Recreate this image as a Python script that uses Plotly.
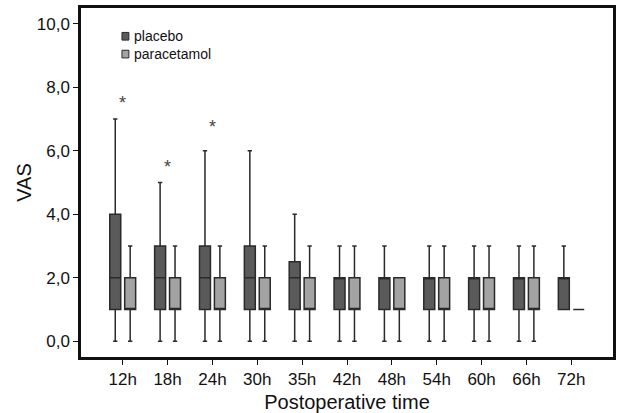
import plotly.graph_objects as go

# ---- data ----
categories = ["12h", "18h", "24h", "30h", "35h", "42h", "48h", "54h", "60h", "66h", "72h"]

placebo_min = [0, 0, 0, 0, 0, 0, 0, 0, 0, 0, 1]
placebo_q1 = [1, 1, 1, 1, 1, 1, 1, 1, 1, 1, 1]
placebo_med = [2, 2, 2, 2, 2, 2, 2, 2, 2, 2, 2]
placebo_q3 = [4, 3, 3, 3, 2.5, 2, 2, 2, 2, 2, 2]
placebo_max = [7, 5, 6, 6, 4, 3, 3, 3, 3, 3, 3]

parac_min = [0, 0, 0, 0, 0, 0, 0, 0, 0, 0, 1]
parac_q1 = [1, 1, 1, 1, 1, 1, 1, 1, 1, 1, 1]
parac_med = [1, 1, 1, 1, 1, 1, 1, 1, 1, 1, 1]
parac_q3 = [2, 2, 2, 2, 2, 2, 2, 2, 2, 2, 1]
parac_max = [3, 3, 3, 3, 3, 3, 2, 3, 3, 3, 1]

star_cats = ["12h", "18h", "24h"]
star_y = [7.5, 5.5, 6.75]

y_tick_vals = [0, 2, 4, 6, 8, 10]
y_tick_labels = ["0,0", "2,0", "4,0", "6,0", "8,0", "10,0"]

series_names = ["placebo", "paracetamol"]
series_colors = ["#5a5a5a", "#a3a3a3"]

FONT = "Liberation Sans, Arial, sans-serif"

fig = go.Figure()
stats = [
    (placebo_min, placebo_q1, placebo_med, placebo_q3, placebo_max),
    (parac_min, parac_q1, parac_med, parac_q3, parac_max),
]
for name, color, (mn, q1, md, q3, mx) in zip(series_names, series_colors, stats):
    fig.add_trace(go.Box(
        name=name,
        x=categories,
        lowerfence=mn, q1=q1, median=md, q3=q3, upperfence=mx,
        fillcolor=color,
        line=dict(color="#2a2a2a", width=1.5),
        whiskerwidth=0.4,
        boxpoints=False,
        showlegend=False,
    ))

for c, yv in zip(star_cats, star_y):
    fig.add_annotation(x=c, y=yv, text="*", showarrow=False,
                       font=dict(family=FONT, size=18, color="#444444"))

# manual legend (single text block to keep tight line spacing)
legend_y = [0.919, 0.868]
for color, ly in zip(series_colors, legend_y):
    fig.add_shape(type="rect", xref="paper", yref="paper",
                  x0=0.077, x1=0.09, y0=ly - 0.011, y1=ly + 0.011,
                  fillcolor=color, line=dict(color="#2a2a2a", width=1))
fig.add_annotation(xref="paper", yref="paper", x=0.095, y=(legend_y[0] + legend_y[1]) / 2,
                   text="<br>".join(series_names),
                   showarrow=False, xanchor="left", yanchor="middle", align="left",
                   font=dict(family=FONT, size=14, color="#111111"))

fig.update_layout(
    width=618, height=413,
    margin=dict(l=81, r=2, t=8, b=56),
    paper_bgcolor="white", plot_bgcolor="white",
    boxmode="group", boxgap=0.335, boxgroupgap=0.265,
    font=dict(family=FONT, size=17, color="#111111"),
    showlegend=False,
)
fig.update_xaxes(
    type="category", categoryorder="array", categoryarray=categories,
    range=[-0.93, 10.93],
    showline=True, linecolor="#111111", linewidth=2.5, mirror=True,
    ticks="outside", ticklen=5, tickcolor="#111111",
    showgrid=False, zeroline=False,
    tickfont=dict(size=17),
    title=dict(text="Postoperative time", font=dict(size=20), standoff=8),
)
fig.update_yaxes(
    range=[-0.5, 10.5],
    tickvals=y_tick_vals, ticktext=y_tick_labels,
    showline=True, linecolor="#111111", linewidth=2.5, mirror=True,
    ticks="outside", ticklen=5, tickcolor="#111111",
    showgrid=False, zeroline=False,
    tickfont=dict(size=17),
    title=dict(text="VAS", font=dict(size=20), standoff=0),
)

fig.write_html("out.html")
